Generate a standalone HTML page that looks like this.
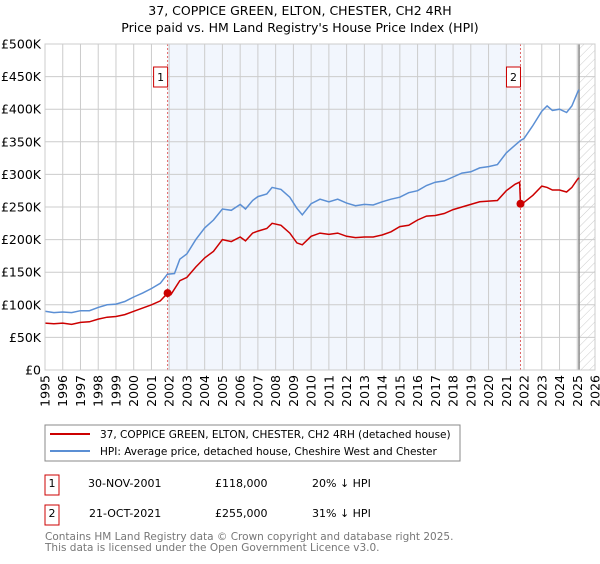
<!DOCTYPE html>
<html><head><meta charset="utf-8"><style>
body{margin:0;background:#fff;font-family:"DejaVu Sans","Liberation Sans",sans-serif;}
svg text{font-family:"DejaVu Sans","Liberation Sans",sans-serif;}
</style></head><body>
<svg id="chart" width="600" height="560" xmlns="http://www.w3.org/2000/svg">
<defs><pattern id="hatch" patternUnits="userSpaceOnUse" width="6" height="6" patternTransform="rotate(45)"><line x1="0" y1="0" x2="0" y2="6" stroke="#ccc" stroke-width="1"/></pattern></defs>
<text x="300" y="15" text-anchor="middle" font-size="12.5">37, COPPICE GREEN, ELTON, CHESTER, CH2 4RH</text>
<text x="300" y="32" text-anchor="middle" font-size="12.5">Price paid vs. HM Land Registry's House Price Index (HPI)</text>
<g id="plot"></g>
<g>
<rect x="45" y="425" width="415" height="36" fill="#fff" stroke="#888"/>
<line x1="50" y1="434" x2="90" y2="434" stroke="#cc0000" stroke-width="2"/>
<text x="100" y="438" font-size="10.5">37, COPPICE GREEN, ELTON, CHESTER, CH2 4RH (detached house)</text>
<line x1="50" y1="451" x2="90" y2="451" stroke="#5b8fd4" stroke-width="2"/>
<text x="100" y="455" font-size="10.5">HPI: Average price, detached house, Cheshire West and Chester</text>
</g>
<g font-size="11">
<rect x="45" y="475" width="14" height="20" fill="#fff" stroke="#c00"/><text x="52" y="487" text-anchor="middle">1</text>
<text x="88" y="487">30-NOV-2001</text><text x="215" y="487">£118,000</text><text x="312" y="487">20% ↓ HPI</text>
<rect x="45" y="505" width="14" height="20" fill="#fff" stroke="#c00"/><text x="52" y="517" text-anchor="middle">2</text>
<text x="89" y="517">21-OCT-2021</text><text x="215" y="517">£255,000</text><text x="312" y="517">31% ↓ HPI</text>
</g>
<g font-size="10.5" fill="#777">
<text x="45" y="540">Contains HM Land Registry data © Crown copyright and database right 2025.</text>
<text x="45" y="551">This data is licensed under the Open Government Licence v3.0.</text>
</g>
</svg>
<script>
const hpiYears=[1995,1995.5,1996,1996.5,1997,1997.5,1998,1998.5,1999,1999.5,2000,2000.5,2001,2001.5,2001.9,2002.3,2002.6,2003,2003.5,2004,2004.5,2005,2005.5,2006,2006.3,2006.7,2007,2007.5,2007.8,2008.3,2008.8,2009.2,2009.5,2010,2010.5,2011,2011.5,2012,2012.5,2013,2013.5,2014,2014.5,2015,2015.5,2016,2016.5,2017,2017.5,2018,2018.5,2019,2019.5,2020,2020.5,2021,2021.5,2021.8,2022,2022.5,2023,2023.3,2023.6,2024,2024.4,2024.7,2025,2025.1];
const hpiValues=[90,88,89,88,91,91,96,100,101,105,112,118,125,133,147,148,170,178,200,218,230,247,245,254,247,260,266,270,280,277,265,248,238,255,262,258,262,256,252,254,253,258,262,265,272,275,283,288,290,296,302,304,310,312,315,333,345,352,355,375,397,405,398,400,395,405,425,430];
const priceYears=[1995,1995.5,1996,1996.5,1997,1997.5,1998,1998.5,1999,1999.5,2000,2000.5,2001,2001.5,2001.91,2002.1,2002.6,2003,2003.5,2004,2004.5,2005,2005.5,2006,2006.3,2006.7,2007,2007.5,2007.8,2008.3,2008.8,2009.2,2009.5,2010,2010.5,2011,2011.5,2012,2012.5,2013,2013.5,2014,2014.5,2015,2015.5,2016,2016.5,2017,2017.5,2018,2018.5,2019,2019.5,2020,2020.5,2021,2021.5,2021.75,2021.8,2022,2022.5,2023,2023.3,2023.6,2024,2024.4,2024.7,2025,2025.1];
const priceValues=[72,71,72,70,73,74,78,81,82,85,90,95,100,106,118,116,137,142,158,172,182,200,197,204,198,210,213,217,225,222,210,195,192,205,210,208,210,205,203,204,204,207,212,220,222,230,236,237,240,246,250,254,258,259,260,275,285,288,255,257,268,282,280,276,276,273,280,292,295];
const saleYears=[2001.91,2021.8];
const saleValues=[118,255];
const saleLabels=["1","2"];
const yTicks=[0,50,100,150,200,250,300,350,400,450,500];
const yTickLabels=["£0","£50K","£100K","£150K","£200K","£250K","£300K","£350K","£400K","£450K","£500K"];
const xTicks=[1995,1996,1997,1998,1999,2000,2001,2002,2003,2004,2005,2006,2007,2008,2009,2010,2011,2012,2013,2014,2015,2016,2017,2018,2019,2020,2021,2022,2023,2024,2025,2026];
const dataEnd=2025.1;

const L=45,R=595,T=44,B=370,X0=1995,X1=2026,Ymax=500;
const sx=v=>L+(v-X0)/(X1-X0)*(R-L);
const sy=v=>B-v/Ymax*(B-T);
const NS="http://www.w3.org/2000/svg";
const g=document.getElementById('plot');
function mk(tag,attrs,parent){const e=document.createElementNS(NS,tag);for(const k in attrs)e.setAttribute(k,attrs[k]);(parent||g).appendChild(e);return e;}

let e=mk('rect',{x:sx(saleYears[0]),y:T,width:sx(saleYears[1])-sx(saleYears[0]),height:B-T,fill:'#f2f6fd'});


e=mk('rect',{x:sx(dataEnd),y:T,width:R-sx(dataEnd),height:B-T,fill:'url(#hatch)'});


yTicks.forEach((t,i)=>{
 e=mk('line',{x1:L,x2:R,y1:sy(t),y2:sy(t),stroke:'#ccc'});
 
 
 e=mk('text',{x:L-4,y:sy(t)+4.5,'text-anchor':'end','font-size':'12.5'});e.textContent=yTickLabels[i];
 
 
});
xTicks.forEach(t=>{
 e=mk('line',{x1:sx(t),x2:sx(t),y1:T,y2:B,stroke:'#ccc'});
 
 
 e=mk('text',{transform:`translate(${sx(t)+4.5},${B+5}) rotate(-90)`,'text-anchor':'end','font-size':'12.5'});e.textContent=t;
 
 
});
e=mk('line',{x1:sx(dataEnd),x2:sx(dataEnd),y1:T,y2:B,stroke:'#888','stroke-width':1.5});


saleYears.forEach((y,i)=>{
 e=mk('line',{x1:sx(y),x2:sx(y),y1:T,y2:B,stroke:'#e06666','stroke-dasharray':'2,2'});
 
 
});
const path=(xs,vs)=>xs.map((x,i)=>(i?'L':'M')+sx(x).toFixed(1)+','+sy(vs[i]).toFixed(1)).join('');
e=mk('path',{d:path(hpiYears,hpiValues),fill:'none',stroke:'#5b8fd4','stroke-width':1.5});


e=mk('path',{d:path(priceYears,priceValues),fill:'none',stroke:'#cc0000','stroke-width':1.5});


saleYears.forEach((y,i)=>{
 e=mk('circle',{cx:sx(y),cy:sy(saleValues[i]),r:4,fill:'#cc0000'});
 
 
 e=mk('rect',{x:sx(y)-14,y:67,width:14,height:20,fill:'#fff',stroke:'#c00'});
 
 
 e=mk('text',{x:sx(y)-7,y:81,'text-anchor':'middle','font-size':'11'});e.textContent=saleLabels[i];
 
 
});
e=mk('rect',{x:L,y:T,width:R-L,height:B-T,fill:'none',stroke:'#ccc'});


</script>
</body></html>
